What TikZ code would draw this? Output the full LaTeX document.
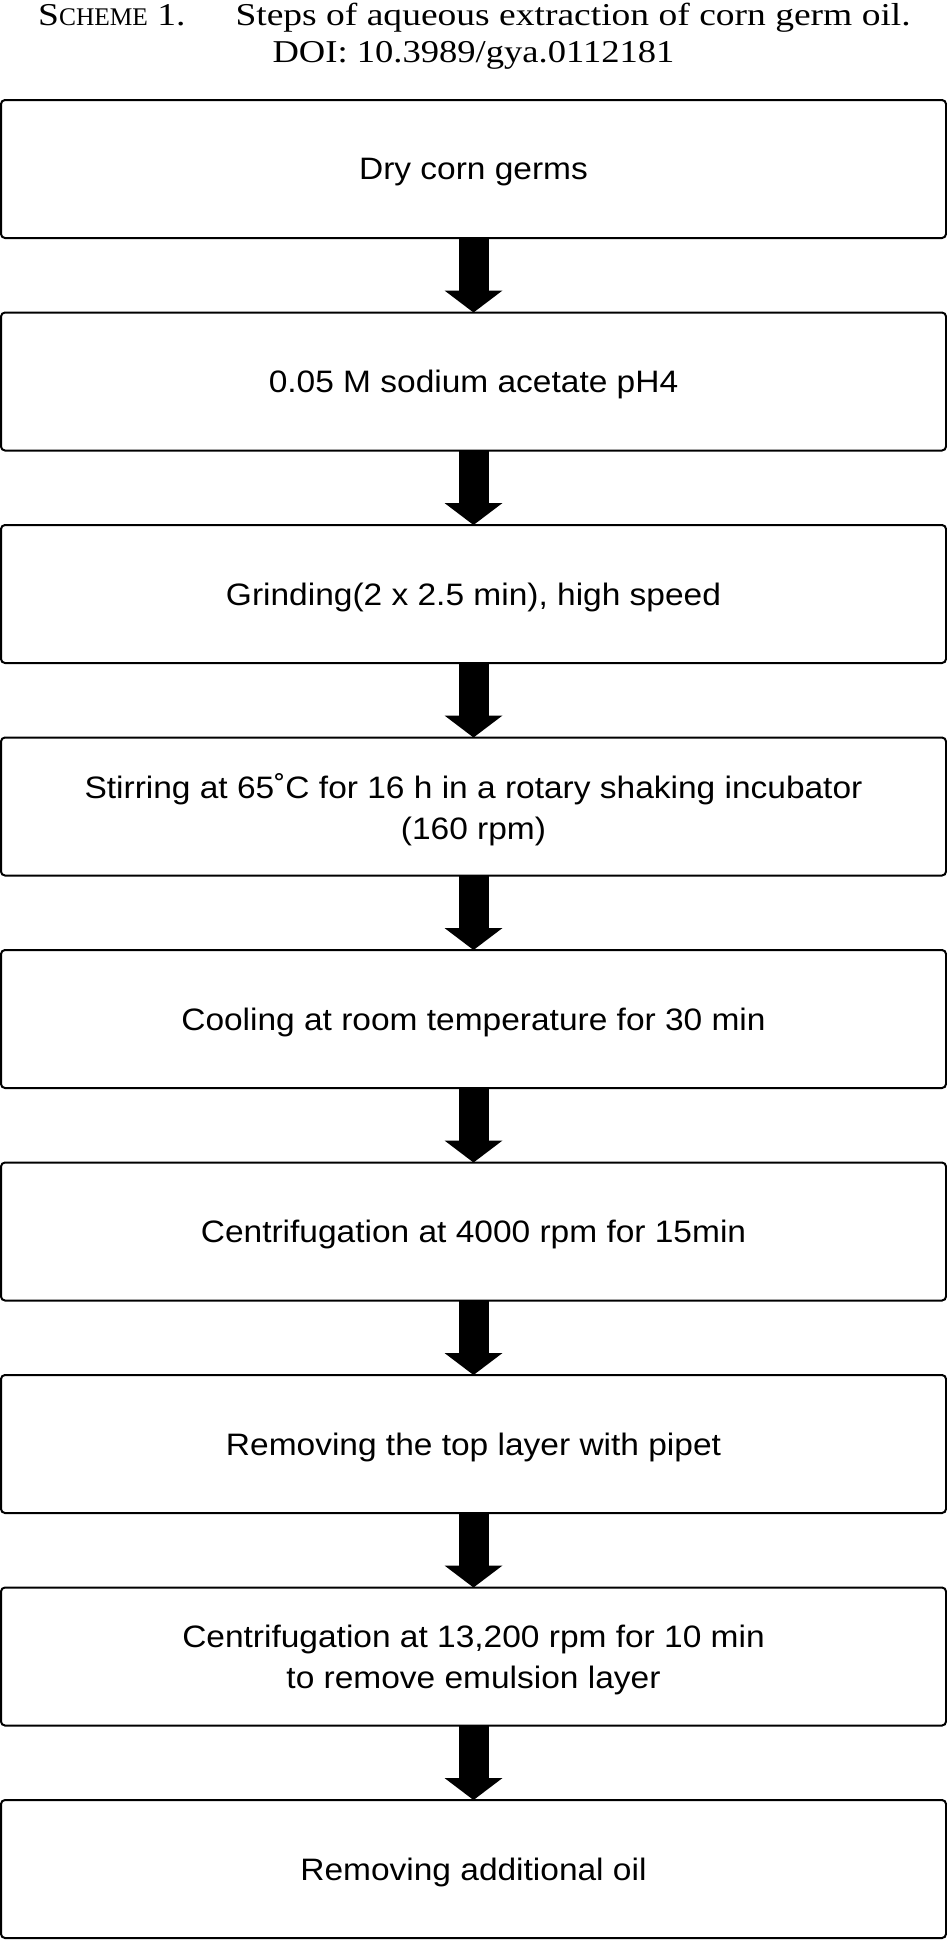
\documentclass[tikz,border=0pt]{standalone}
\usepackage{fontspec}
\setmainfont[FakeStretch=1.15]{Liberation Serif}
\newfontfamily\titlefont[FakeStretch=1.18]{Liberation Serif}
\newfontfamily\capsfont{Liberation Serif}
\newfontfamily\boxfont[FakeStretch=1.08]{Liberation Sans}
\usetikzlibrary{arrows.meta,positioning}

\begin{document}
\begin{tikzpicture}[
  stepbox/.style={draw, line width=1pt, rounded corners=2pt, align=center,
    minimum width=472.5pt, minimum height=69pt, inner sep=4pt, outer sep=0pt,
    text depth=0pt, font=\boxfont\fontsize{15.5}{20.3}\selectfont},
  fatarr/.style={line width=15pt, -{Triangle[length=11pt, width=29pt, line width=0pt]}},
  caption/.style={anchor=base, font=\fontsize{15.9}{18}\selectfont},
  node distance=37.25pt
]
\useasboundingbox (0,0) rectangle (473.5pt,-970pt);

% caption
\node[caption, font=\titlefont\fontsize{15.9}{18}\selectfont] (title) at (237.25pt,-12.5pt)
  {S{\capsfont\fontsize{12.7}{14}\selectfont CHEME} 1.\hspace{25pt}Steps of aqueous extraction of corn germ oil.};
\node[caption] (doi) at (236.75pt,-31pt) {DOI: 10.3989/gya.0112181};

% steps
\node[stepbox] (dry) at (236.75pt,-84.5pt) {Dry corn germs};
\node[stepbox, below=of dry] (buffer) {0.05 M sodium acetate pH4};
\node[stepbox, below=of buffer] (grind) {Grinding(2 x 2.5 min), high speed};
\node[stepbox, below=of grind] (stir) {Stirring at 65˚C for 16 h in a rotary shaking incubator\\(160 rpm)};
\node[stepbox, below=of stir] (cool) {Cooling at room temperature for 30 min};
\node[stepbox, below=of cool] (spin) {Centrifugation at 4000 rpm for 15min};
\node[stepbox, below=of spin] (pipet) {Removing the top layer with pipet};
\node[stepbox, below=of pipet] (spinfast) {Centrifugation at 13,200 rpm for 10 min\\to remove emulsion layer};
\node[stepbox, below=of spinfast] (oil) {Removing additional oil};

\draw[fatarr] (dry.south)   -- (buffer.north);
\draw[fatarr] (buffer.south)   -- (grind.north);
\draw[fatarr] (grind.south)   -- (stir.north);
\draw[fatarr] (stir.south)   -- (cool.north);
\draw[fatarr] (cool.south)   -- (spin.north);
\draw[fatarr] (spin.south)   -- (pipet.north);
\draw[fatarr] (pipet.south)   -- (spinfast.north);
\draw[fatarr] (spinfast.south)   -- (oil.north);
\end{tikzpicture}
\end{document}
